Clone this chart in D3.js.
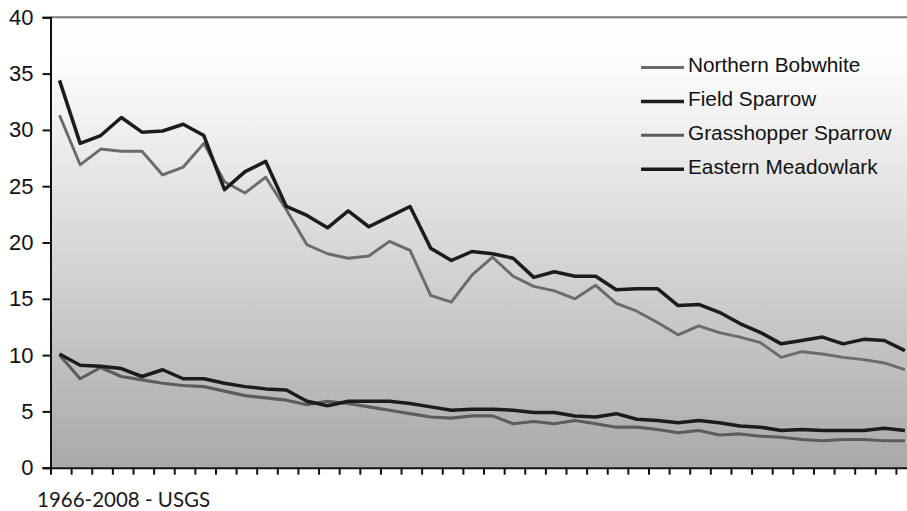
<!DOCTYPE html>
<html>
<head>
<meta charset="utf-8">
<script src="https://cdn.jsdelivr.net/npm/d3@7"></script>
<style>
  html, body { margin: 0; padding: 0; background: #fff; overflow: hidden; }
  svg { display: block; }
</style>
</head>
<body>
<svg id="chart" width="907" height="511"></svg>
<script>
// ---- data ----
const years = d3.range(1966, 2008); // 42 plotted years
const seriesNames = ["Northern Bobwhite", "Field Sparrow", "Grasshopper Sparrow", "Eastern Meadowlark"];
const northernBobwhite = [31.3, 26.9, 28.3, 28.1, 28.1, 26.0, 26.7, 28.8, 25.4, 24.4, 25.8, 22.9, 19.8, 19.0, 18.6, 18.8, 20.1, 19.3, 15.3, 14.7, 17.1,
  18.7, 17.0, 16.1, 15.7, 15.0, 16.2, 14.6, 13.9, 12.9, 11.8, 12.6, 12.0, 11.6, 11.1, 9.8, 10.3, 10.1, 9.8, 9.6, 9.3, 8.7];
const fieldSparrow = [34.4, 28.8, 29.5, 31.1, 29.8, 29.9, 30.5, 29.5, 24.7, 26.3, 27.2, 23.2, 22.4, 21.3, 22.8, 21.4, 22.3, 23.2, 19.5, 18.4, 19.2,
  19.0, 18.6, 16.9, 17.4, 17.0, 17.0, 15.8, 15.9, 15.9, 14.4, 14.5, 13.8, 12.8, 12.0, 11.0, 11.3, 11.6, 11.0, 11.4, 11.3, 10.4];
const grasshopperSparrow = [10.0, 7.9, 8.9, 8.1, 7.8, 7.5, 7.3, 7.2, 6.8, 6.4, 6.2, 6.0, 5.6, 5.9, 5.7, 5.4, 5.1, 4.8, 4.5, 4.4, 4.6,
  4.6, 3.9, 4.1, 3.9, 4.2, 3.9, 3.6, 3.6, 3.4, 3.1, 3.3, 2.9, 3.0, 2.8, 2.7, 2.5, 2.4, 2.5, 2.5, 2.4, 2.4];
const easternMeadowlark = [10.1, 9.1, 9.0, 8.8, 8.1, 8.7, 7.9, 7.9, 7.5, 7.2, 7.0, 6.9, 5.9, 5.5, 5.9, 5.9, 5.9, 5.7, 5.4, 5.1, 5.2,
  5.2, 5.1, 4.9, 4.9, 4.6, 4.5, 4.8, 4.3, 4.2, 4.0, 4.2, 4.0, 3.7, 3.6, 3.3, 3.4, 3.3, 3.3, 3.3, 3.5, 3.3];
const yTicks = [0, 5, 10, 15, 20, 25, 30, 35, 40];
const footnote = "1966-2008 - USGS";

// ---- styles ----
const styles = {
  "Northern Bobwhite":   { color: "#6b6b6b", width: 2.9 },
  "Field Sparrow":       { color: "#1c1c1c", width: 3.5 },
  "Grasshopper Sparrow": { color: "#5c5c5c", width: 3.1 },
  "Eastern Meadowlark":  { color: "#1c1c1c", width: 3.5 }
};
const seriesData = [northernBobwhite, fieldSparrow, grasshopperSparrow, easternMeadowlark];

const svg = d3.select("#chart");
const plotL = 50.5, plotT = 17.3, plotB = 467.7, step = 20.62;
const plotR = plotL + years.length * step;

const x = d3.scaleBand().domain(years).range([plotL, plotR]).paddingInner(0).paddingOuter(0);
const xEdge = d3.scaleLinear().domain([0, years.length]).range([plotL, plotR]);
const y = d3.scaleLinear().domain([0, 40]).range([plotB, plotT]);

// background gradient
const defs = svg.append("defs");
const grad = defs.append("linearGradient").attr("id", "bg").attr("x1", 0).attr("y1", 0).attr("x2", 0).attr("y2", 1);
grad.append("stop").attr("offset", "0%").attr("stop-color", "#ffffff");
grad.append("stop").attr("offset", "12%").attr("stop-color", "#fbfbfb");
grad.append("stop").attr("offset", "55%").attr("stop-color", "#d4d4d4");
grad.append("stop").attr("offset", "100%").attr("stop-color", "#a9a9a9");

svg.append("rect").attr("x", plotL).attr("y", plotT).attr("width", plotR - plotL).attr("height", plotB - plotT)
  .attr("fill", "url(#bg)");

// top border
svg.append("line").attr("x1", plotL).attr("x2", plotR).attr("y1", plotT).attr("y2", plotT)
  .attr("stroke", "#7a7a7a").attr("stroke-width", 2);

// lines
const line = d3.line().x((d, i) => x(years[i]) + x.bandwidth() / 2 - 1.3).y(d => y(d));
seriesNames.forEach((name, si) => {
  svg.append("path").datum(seriesData[si]).attr("d", line)
    .attr("fill", "none").attr("stroke", styles[name].color).attr("stroke-width", styles[name].width)
    .attr("stroke-linejoin", "round").attr("stroke-linecap", "butt");
});

// y axis
const yAxis = svg.append("g").attr("transform", `translate(${plotL},0)`)
  .call(d3.axisLeft(y).tickValues(yTicks).tickSize(8).tickPadding(9).tickFormat(d3.format("d")));
yAxis.select(".domain").attr("stroke", "#111").attr("stroke-width", 2);
yAxis.selectAll(".tick line").attr("stroke", "#111").attr("stroke-width", 2);
yAxis.selectAll(".tick text").attr("font-family", "Liberation Sans, Arial, sans-serif")
  .attr("font-size", 22).attr("fill", "#111");

// x axis (ticks between categories, no labels)
const xAxis = svg.append("g").attr("transform", `translate(0,${plotB})`)
  .call(d3.axisBottom(xEdge).tickValues(d3.range(0, years.length + 1)).tickSize(7).tickSizeOuter(0).tickFormat(""));
xAxis.select(".domain").attr("stroke", "#111").attr("stroke-width", 2);
xAxis.selectAll(".tick line").attr("stroke", "#111").attr("stroke-width", 2);

// legend
const legend = svg.append("g");
seriesNames.forEach((name, i) => {
  const by = 72.3 + i * 33.9;
  legend.append("line").attr("x1", 641).attr("x2", 684).attr("y1", by - 4.8).attr("y2", by - 4.8)
    .attr("stroke", styles[name].color).attr("stroke-width", styles[name].width);
  legend.append("text").attr("x", 688).attr("y", by).text(name)
    .attr("font-family", "Liberation Sans, Arial, sans-serif").attr("font-size", 20.8).attr("fill", "#111");
});

// footnote
svg.append("text").attr("x", 37).attr("y", 507).text(footnote)
  .attr("font-family", "Lato, 'Open Sans', sans-serif").attr("font-size", 20.5).attr("fill", "#1a1a1a");
</script>
</body>
</html>
